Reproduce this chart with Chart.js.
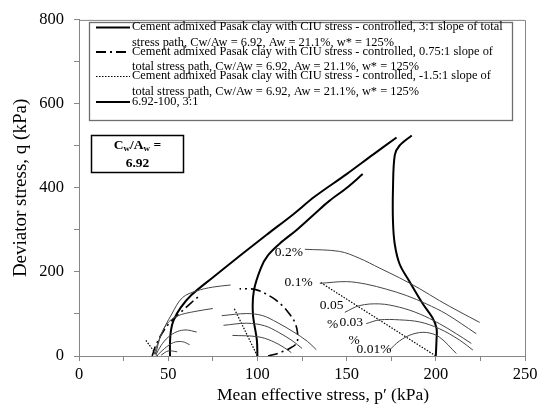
<!DOCTYPE html>
<html>
<head>
<meta charset="utf-8">
<title>Stress paths</title>
<script src="https://cdn.jsdelivr.net/npm/chart.js@4.4.0/dist/chart.umd.min.js"></script>
<style>
  html, body { margin: 0; padding: 0; background: #fff; }
  #wrap { position: relative; width: 545px; height: 411px; }
</style>
</head>
<body>
<div id="wrap"><canvas id="chart" width="545" height="411"></canvas></div>
<script>
// Axis ranges and ticks
const xTicks = [0, 50, 100, 150, 200, 250];
const yTicks = [0, 200, 400, 600, 800];

// Effective stress paths, 3:1 slope of total stress path  [p', q]
const path50 = [[51, 0], [51, 30], [51.5, 60], [53, 85], [57, 115], [63, 145], [75, 187], [90, 238], [105, 288], [120, 337], [132, 379], [150, 433], [165, 480], [178, 520]];
const path100 = [[100, 0], [99.7, 38], [97.5, 100], [98, 155], [102, 210], [106, 240], [112.6, 268], [122, 300], [132, 338], [140, 368], [150, 400], [159, 433]];
const path200 = [[200, 0], [200.4, 38], [200.4, 66], [198, 92], [192.6, 125], [185, 179], [179.7, 219], [177, 266], [176, 320], [176, 398], [177, 478], [179.7, 501], [186.5, 525]];

// 0.75:1 slope of total stress path
const dashDot50 = [[41, 0], [43, 25], [46, 50], [50, 75], [56, 100], [63, 127], [68, 145]];
const dashDot100 = [[106, 0], [112, 7], [118, 18], [122, 31], [122.5, 55], [121, 80], [118, 100], [114, 120], [108, 140], [99, 158], [90, 160]];

// -1.5:1 slope of total stress path
const dotted50 = [[44, 0], [37, 40]];
const dotted100 = [[100, 0], [87, 113]];
const dotted200 = [[200, 0], [135, 176]];

// Strain contours around the 200 kPa path
const strain02 = [[126.6, 254], [146, 249], [157, 233], [168.6, 209], [179.7, 186], [191, 160], [202, 132], [213, 106], [224.6, 80]];
const strain01 = [[135, 173], [150, 177], [161, 171], [172.3, 159], [183.5, 144], [194.7, 124], [205.9, 100], [222.7, 53]];
const strain005 = [[149, 104], [157.3, 120], [168.5, 124], [179.7, 116], [191, 100], [202, 77], [211.5, 53], [219.9, 30]];
const strain003 = [[161, 77], [168.5, 86], [179.7, 86], [191, 81], [202, 65], [213.3, 38], [220.8, 14]];
const strain001 = [[174, 14], [179.7, 36], [187, 52], [194.7, 56], [202, 45], [211.5, 6]];

// Strain contours around the 100 kPa path
const arc100a = [[80, 96], [94, 101], [103, 96], [111, 80], [120, 58], [128, 35], [133, 15]];
const arc100b = [[81, 73], [94, 78], [104, 72], [112, 56], [120, 35], [125, 18]];
const arc100c = [[86, 49], [100, 46], [108, 36], [115, 20], [119, 8]];

// Strain contours around the 50 kPa path
const arc50a = [[43, 5], [46, 50], [52, 100], [58, 139], [66, 155], [75, 164], [85, 169]];
const arc50b = [[42, 3], [45, 40], [49, 75], [55, 95], [65, 106], [75, 113]];
const arc50c = [[43, 2], [46, 25], [50, 45], [55, 58], [60, 62], [66, 57]];
const arc50d = [[44, 2], [48, 18], [53, 32], [58, 34], [62, 27]];
const arc50e = [[46, 2], [50, 12], [55, 10]];

// Text
const strainLabels = ['0.2%', '0.1%', '0.05', '%', '0.03', '%', '0.01%'];
const strainLabelAt = [[125.5, 247], [131, 174], [135, 120], [139, 75], [146, 80], [151, 38], [155.6, 16]];
const strainLabelAlign = ['right', 'right', 'left', 'left', 'left', 'left', 'left'];
const legendLabels = [
  ['Cement admixed Pasak clay with CIU stress - controlled, 3:1 slope of total', 'stress path, Cw/Aw = 6.92, Aw = 21.1%, w* = 125%'],
  ['Cement admixed Pasak clay with CIU stress - controlled, 0.75:1 slope of', 'total stress path, Cw/Aw = 6.92, Aw = 21.1%, w* = 125%'],
  ['Cement admixed Pasak clay with CIU stress - controlled, -1.5:1 slope of', 'total stress path, Cw/Aw = 6.92, Aw = 21.1%, w* = 125%'],
  ['6.92-100, 3:1']
];
const xTitle = 'Mean effective stress, p\u2032 (kPa)';
const yTitle = 'Deviator stress, q (kPa)';

const SERIF = '"Liberation Serif", "Times New Roman", serif';
const DASH_DOT = [10, 4, 2, 4];
const toXY = pts => pts.map(([x, y]) => ({ x, y }));

function line(pts, width, dash, color) {
  return {
    data: toXY(pts),
    showLine: true,
    borderColor: color || '#000',
    borderWidth: width,
    borderDash: dash || [],
    pointRadius: 0,
    tension: 0.35,
    fill: false
  };
}

const datasets = [
  ...[strain02, strain01, strain005, strain003, strain001, arc100a, arc100b, arc100c, arc50a, arc50b, arc50c, arc50d, arc50e]
    .map(p => line(p, 1, [], '#454545')),
  ...[dotted50, dotted100, dotted200].map(p => line(p, 1.2, [1.5, 1.5])),
  ...[dashDot50, dashDot100].map(p => line(p, 1.6, DASH_DOT)),
  ...[path50, path100, path200].map(p => line(p, 2))
];

// legend, frame, annotations
const overlay = {
  id: 'overlay',
  afterDraw(chart) {
    const { ctx, chartArea: a, scales: { x, y } } = chart;
    ctx.save();

    // top and right frame
    ctx.strokeStyle = '#868686';
    ctx.lineWidth = 1;
    ctx.beginPath();
    ctx.moveTo(a.left, a.top + 0.5);
    ctx.lineTo(a.right + 0.5, a.top + 0.5);
    ctx.lineTo(a.right + 0.5, a.bottom);
    ctx.stroke();

    // strain labels
    ctx.fillStyle = '#000';
    ctx.font = '13.5px ' + SERIF;
    ctx.textBaseline = 'middle';
    strainLabels.forEach((t, i) => {
      ctx.textAlign = strainLabelAlign[i];
      ctx.fillText(t, x.getPixelForValue(strainLabelAt[i][0]), y.getPixelForValue(strainLabelAt[i][1]));
    });

    // legend box
    ctx.fillStyle = '#fff';
    ctx.fillRect(89, 22, 423, 98);
    ctx.strokeStyle = '#6e6e6e';
    ctx.lineWidth = 1.3;
    ctx.strokeRect(89.5, 22.5, 423, 98);
    const entryY = [27, 51.5, 76, 101.5];
    const dashes = [[], DASH_DOT, [1.5, 1.5], []];
    const widths = [2, 1.8, 1.2, 2];
    ctx.font = '12.4px ' + SERIF;
    ctx.textAlign = 'left';
    legendLabels.forEach((lines, i) => {
      ctx.strokeStyle = '#000';
      ctx.lineWidth = widths[i];
      ctx.setLineDash(dashes[i]);
      ctx.beginPath();
      ctx.moveTo(96, entryY[i] + 0.5);
      ctx.lineTo(130, entryY[i] + 0.5);
      ctx.stroke();
      ctx.setLineDash([]);
      ctx.fillStyle = '#000';
      lines.forEach((t, j) => ctx.fillText(t, 132, entryY[i] + j * 15.5));
    });

    // Cw/Aw box
    ctx.lineWidth = 1.5;
    ctx.strokeStyle = '#000';
    ctx.strokeRect(91.5, 135.5, 92, 37);
    const big = 'bold 13.5px ' + SERIF, small = 'bold 9px ' + SERIF;
    const parts = [['C', big, 0], ['w', small, 3], ['/A', big, 0], ['w', small, 3], [' =', big, 0]];
    let w = 0;
    parts.forEach(([t, f]) => { ctx.font = f; w += ctx.measureText(t).width; });
    let cx = 137.5 - w / 2;
    parts.forEach(([t, f, dy]) => {
      ctx.font = f;
      ctx.fillText(t, cx, 146 + dy);
      cx += ctx.measureText(t).width;
    });
    ctx.font = big;
    ctx.textAlign = 'center';
    ctx.fillText('6.92', 137.5, 164);

    // x axis title
    ctx.font = '17.5px ' + SERIF;
    ctx.fillText(xTitle, 323, 395);
    ctx.restore();
  }
};

new Chart(document.getElementById('chart'), {
  type: 'scatter',
  data: { datasets },
  options: {
    responsive: false,
    animation: false,
    devicePixelRatio: 1,
    layout: { padding: { top: 17, right: 20, left: 0, bottom: 0 } },
    plugins: { legend: { display: false }, tooltip: { enabled: false } },
    scales: {
      x: {
        type: 'linear',
        min: 0,
        max: 250,
        afterFit: s => { s.height = 55; },
        border: { color: '#868686', width: 1 },
        grid: { drawOnChartArea: false, drawTicks: true, tickLength: 5, color: '#868686' },
        ticks: {
          stepSize: 25,
          padding: 4,
          color: '#000',
          font: { family: SERIF, size: 16.5 },
          maxRotation: 0,
          callback: v => (xTicks.includes(v) ? v : '')
        }
      },
      y: {
        type: 'linear',
        min: 0,
        max: 800,
        afterFit: s => { s.width = 79; },
        border: { color: '#868686', width: 1 },
        grid: { drawOnChartArea: false, drawTicks: true, tickLength: 5, color: '#868686' },
        title: {
          display: true,
          text: yTitle,
          color: '#000',
          font: { family: SERIF, size: 19 },
          padding: { top: 10, bottom: 0 }
        },
        ticks: {
          stepSize: 100,
          padding: 10,
          color: '#000',
          font: { family: SERIF, size: 16.5 },
          callback: v => (yTicks.includes(v) ? v : '')
        }
      }
    }
  },
  plugins: [overlay]
});
</script>
</body>
</html>
